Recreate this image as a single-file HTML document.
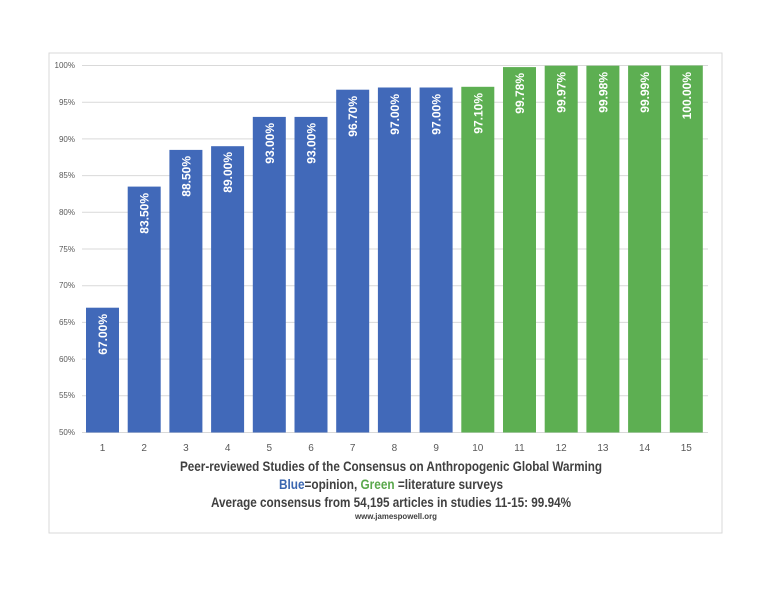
<!DOCTYPE html>
<html><head><meta charset="utf-8"><style>
body{margin:0;background:#fff;}
</style></head><body>
<svg width="762" height="588" xmlns="http://www.w3.org/2000/svg" font-family="Liberation Sans, sans-serif">
<rect x="49" y="53" width="673" height="480" fill="#fff" stroke="#d9d9d9" stroke-width="1"/>
<g stroke="#d9d9d9" stroke-width="1">
<line x1="82" x2="708" y1="65.5" y2="65.5"/>
<line x1="82" x2="708" y1="102.2" y2="102.2"/>
<line x1="82" x2="708" y1="138.9" y2="138.9"/>
<line x1="82" x2="708" y1="175.6" y2="175.6"/>
<line x1="82" x2="708" y1="212.3" y2="212.3"/>
<line x1="82" x2="708" y1="249" y2="249"/>
<line x1="82" x2="708" y1="285.7" y2="285.7"/>
<line x1="82" x2="708" y1="322.4" y2="322.4"/>
<line x1="82" x2="708" y1="359.1" y2="359.1"/>
<line x1="82" x2="708" y1="395.8" y2="395.8"/>
<line x1="82" x2="708" y1="432.5" y2="432.5"/>
</g>
<g font-size="8" fill="#595959" text-anchor="end">
<text x="75" y="68">100%</text><text x="75" y="105">95%</text><text x="75" y="142">90%</text>
<text x="75" y="178">85%</text><text x="75" y="215">80%</text><text x="75" y="252">75%</text>
<text x="75" y="288">70%</text><text x="75" y="325">65%</text><text x="75" y="362">60%</text>
<text x="75" y="398">55%</text><text x="75" y="435">50%</text>
</g>
<g fill="#4169b9">
<rect x="86" y="307.7" width="33" height="124.8"/>
<rect x="127.7" y="186.6" width="33" height="245.9"/>
<rect x="169.4" y="149.9" width="33" height="282.6"/>
<rect x="211.1" y="146.2" width="33" height="286.3"/>
<rect x="252.8" y="116.9" width="33" height="315.6"/>
<rect x="294.5" y="116.9" width="33" height="315.6"/>
<rect x="336.2" y="89.7" width="33" height="342.8"/>
<rect x="377.9" y="87.5" width="33" height="345"/>
<rect x="419.6" y="87.5" width="33" height="345"/>
</g>
<g fill="#5daf52">
<rect x="461.3" y="86.8" width="33" height="345.7"/>
<rect x="503" y="67.1" width="33" height="365.4"/>
<rect x="544.7" y="65.7" width="33" height="366.8"/>
<rect x="586.4" y="65.7" width="33" height="366.8"/>
<rect x="628.1" y="65.6" width="33" height="366.9"/>
<rect x="669.8" y="65.5" width="33" height="367"/>
</g>
<g font-size="12" font-weight="bold" fill="#fff" text-anchor="end">
<text transform="translate(107,314) rotate(-90)">67.00%</text>
<text transform="translate(148.7,193) rotate(-90)">83.50%</text>
<text transform="translate(190.4,156) rotate(-90)">88.50%</text>
<text transform="translate(232.1,152) rotate(-90)">89.00%</text>
<text transform="translate(273.8,123) rotate(-90)">93.00%</text>
<text transform="translate(315.5,123) rotate(-90)">93.00%</text>
<text transform="translate(357.2,96) rotate(-90)">96.70%</text>
<text transform="translate(398.9,94) rotate(-90)">97.00%</text>
<text transform="translate(440.6,94) rotate(-90)">97.00%</text>
<text transform="translate(482.3,93) rotate(-90)">97.10%</text>
<text transform="translate(524,73) rotate(-90)">99.78%</text>
<text transform="translate(565.7,72) rotate(-90)">99.97%</text>
<text transform="translate(607.4,72) rotate(-90)">99.98%</text>
<text transform="translate(649.1,72) rotate(-90)">99.99%</text>
<text transform="translate(690.8,72) rotate(-90)">100.00%</text>
</g>
<g font-size="10" fill="#595959" text-anchor="middle">
<text x="102.5" y="451">1</text><text x="144.2" y="451">2</text><text x="185.9" y="451">3</text>
<text x="227.6" y="451">4</text><text x="269.3" y="451">5</text><text x="311" y="451">6</text>
<text x="352.7" y="451">7</text><text x="394.4" y="451">8</text><text x="436.1" y="451">9</text>
<text x="477.8" y="451">10</text><text x="519.5" y="451">11</text><text x="561.2" y="451">12</text>
<text x="602.9" y="451">13</text><text x="644.6" y="451">14</text><text x="686.3" y="451">15</text>
</g>
<g font-size="14" font-weight="bold" fill="#404040">
<text x="180" y="471" textLength="422" lengthAdjust="spacingAndGlyphs">Peer-reviewed Studies of the Consensus on Anthropogenic Global Warming</text>
<text x="279" y="489" textLength="224" lengthAdjust="spacingAndGlyphs"><tspan fill="#3a66b0">Blue</tspan>=opinion, <tspan fill="#5aa84c">Green</tspan> =literature surveys</text>
<text x="211" y="507" textLength="360" lengthAdjust="spacingAndGlyphs">Average consensus from 54,195 articles in studies 11-15: 99.94%</text>
<text x="355" y="519" font-size="8" textLength="82" lengthAdjust="spacingAndGlyphs">www.jamespowell.org</text>
</g>
</svg>
</body></html>
